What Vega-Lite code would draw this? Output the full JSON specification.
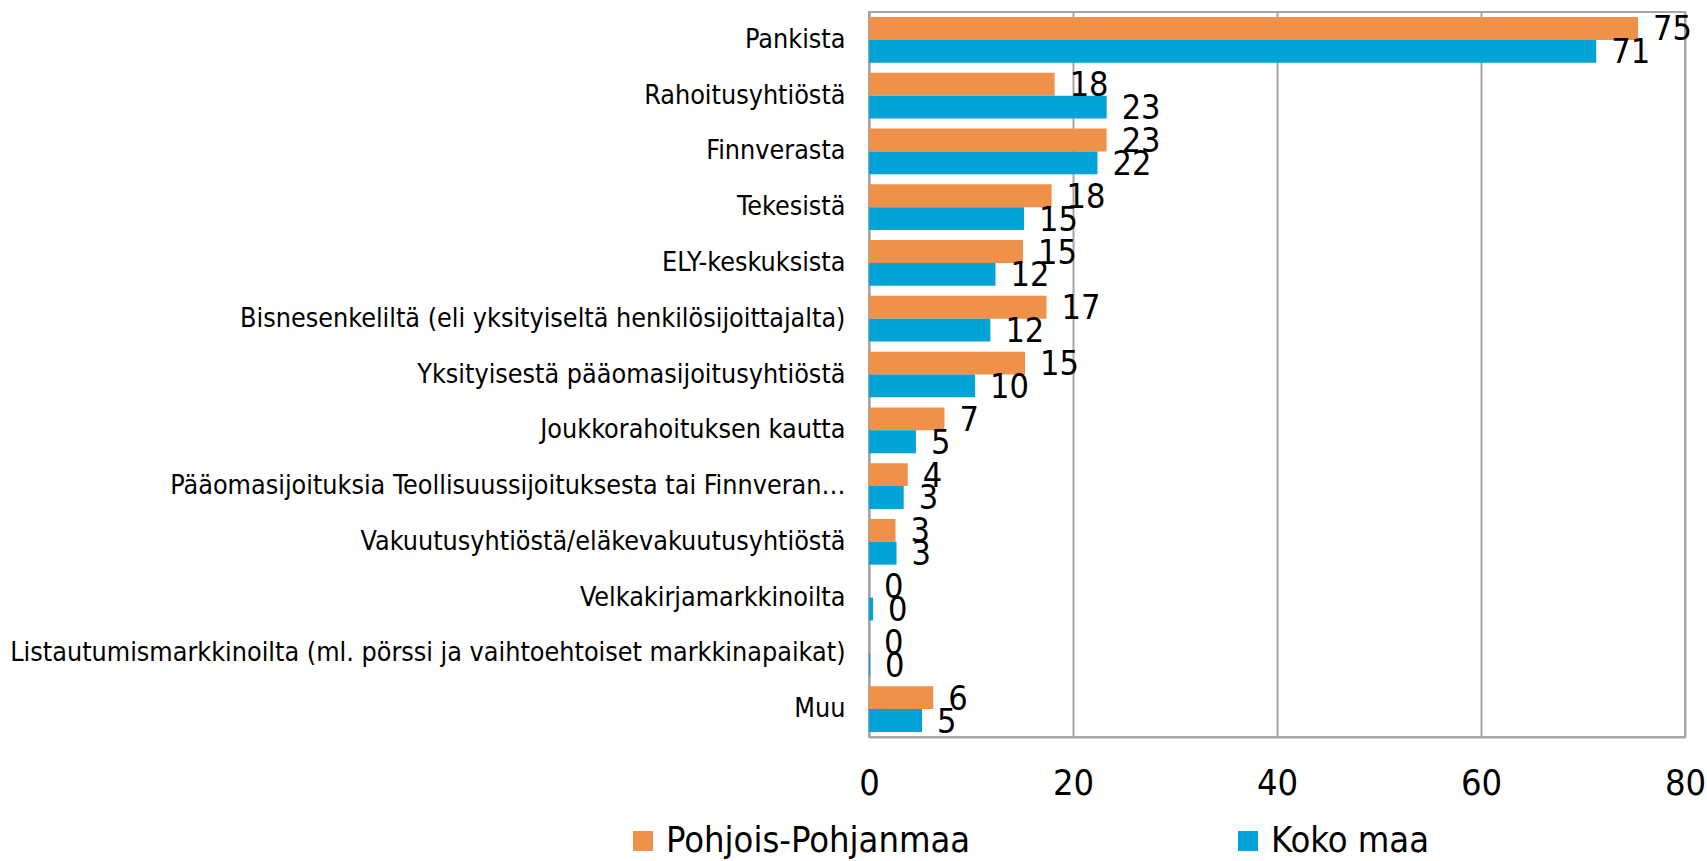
{
  "$schema": "https://vega.github.io/schema/vega-lite/v6.json",
  "width": 816,
  "height": 725,
  "autosize": {"type": "none"},
  "padding": {"left": 869, "top": 12, "right": 22, "bottom": 124},
  "background": "white",
  "config": {
    "font": "DejaVu Sans Condensed",
    "view": {"stroke": "#a6a6a6", "strokeWidth": 2}
  },
  "data": {
    "values": [
      {"cat": "Pankista", "series": "Pohjois-Pohjanmaa", "value": 75.4},
      {"cat": "Pankista", "series": "Koko maa", "value": 71.3},
      {"cat": "Rahoitusyhtiöstä", "series": "Pohjois-Pohjanmaa", "value": 18.2},
      {"cat": "Rahoitusyhtiöstä", "series": "Koko maa", "value": 23.3},
      {"cat": "Finnverasta", "series": "Pohjois-Pohjanmaa", "value": 23.3},
      {"cat": "Finnverasta", "series": "Koko maa", "value": 22.4},
      {"cat": "Tekesistä", "series": "Pohjois-Pohjanmaa", "value": 17.9},
      {"cat": "Tekesistä", "series": "Koko maa", "value": 15.2},
      {"cat": "ELY-keskuksista", "series": "Pohjois-Pohjanmaa", "value": 15.1},
      {"cat": "ELY-keskuksista", "series": "Koko maa", "value": 12.4},
      {"cat": "Bisnesenkeliltä (eli yksityiseltä henkilösijoittajalta)", "series": "Pohjois-Pohjanmaa", "value": 17.4},
      {"cat": "Bisnesenkeliltä (eli yksityiseltä henkilösijoittajalta)", "series": "Koko maa", "value": 11.9},
      {"cat": "Yksityisestä pääomasijoitusyhtiöstä", "series": "Pohjois-Pohjanmaa", "value": 15.3},
      {"cat": "Yksityisestä pääomasijoitusyhtiöstä", "series": "Koko maa", "value": 10.4},
      {"cat": "Joukkorahoituksen kautta", "series": "Pohjois-Pohjanmaa", "value": 7.4},
      {"cat": "Joukkorahoituksen kautta", "series": "Koko maa", "value": 4.6},
      {"cat": "Pääomasijoituksia Teollisuussijoituksesta tai Finnveran…", "series": "Pohjois-Pohjanmaa", "value": 3.8},
      {"cat": "Pääomasijoituksia Teollisuussijoituksesta tai Finnveran…", "series": "Koko maa", "value": 3.4},
      {"cat": "Vakuutusyhtiöstä/eläkevakuutusyhtiöstä", "series": "Pohjois-Pohjanmaa", "value": 2.6},
      {"cat": "Vakuutusyhtiöstä/eläkevakuutusyhtiöstä", "series": "Koko maa", "value": 2.7},
      {"cat": "Velkakirjamarkkinoilta", "series": "Pohjois-Pohjanmaa", "value": 0},
      {"cat": "Velkakirjamarkkinoilta", "series": "Koko maa", "value": 0.4},
      {"cat": "Listautumismarkkinoilta (ml. pörssi ja vaihtoehtoiset markkinapaikat)", "series": "Pohjois-Pohjanmaa", "value": 0},
      {"cat": "Listautumismarkkinoilta (ml. pörssi ja vaihtoehtoiset markkinapaikat)", "series": "Koko maa", "value": 0.1},
      {"cat": "Muu", "series": "Pohjois-Pohjanmaa", "value": 6.3},
      {"cat": "Muu", "series": "Koko maa", "value": 5.2}
    ]
  },
  "encoding": {
    "y": {
      "field": "cat",
      "type": "nominal",
      "sort": null,
      "scale": {"paddingInner": 0.18, "paddingOuter": 0.09},
      "axis": {
        "title": null,
        "ticks": false,
        "domain": true,
        "domainColor": "#a6a6a6",
        "domainWidth": 2,
        "labelFontSize": 26.7,
        "labelColor": "#000000",
        "labelPadding": 24,
        "labelLimit": 900
      }
    },
    "x": {
      "field": "value",
      "type": "quantitative",
      "scale": {"domain": [0, 80], "nice": false},
      "axis": {
        "title": null,
        "values": [0, 20, 40, 60, 80],
        "ticks": false,
        "domain": true,
        "domainColor": "#a6a6a6",
        "domainWidth": 2,
        "grid": true,
        "gridColor": "#a6a6a6",
        "gridWidth": 2,
        "labelFontSize": 36,
        "labelColor": "#000000",
        "labelPadding": 29,
        "labelFlush": false
      }
    },
    "yOffset": {
      "field": "series",
      "type": "nominal",
      "sort": ["Pohjois-Pohjanmaa", "Koko maa"],
      "scale": {"paddingInner": 0, "paddingOuter": 0}
    }
  },
  "layer": [
    {
      "mark": {"type": "bar"},
      "encoding": {
        "color": {
          "field": "series",
          "type": "nominal",
          "sort": ["Pohjois-Pohjanmaa", "Koko maa"],
          "scale": {"domain": ["Pohjois-Pohjanmaa", "Koko maa"], "range": ["#F0914A", "#01A3D9"]},
          "legend": {
            "title": null,
            "orient": "none",
            "legendX": -244,
            "legendY": 811,
            "direction": "horizontal",
            "columns": 2,
            "columnPadding": 259,
            "symbolType": "square",
            "symbolSize": 400,
            "symbolStrokeWidth": 0,
            "labelFontSize": 36,
            "labelColor": "#000000",
            "labelOffset": 5,
            "labelLimit": 600
          }
        }
      }
    },
    {
      "mark": {"type": "text", "align": "left", "baseline": "middle", "dx": 15, "dy": 2, "fontSize": 34, "color": "#000000"},
      "encoding": {
        "text": {"field": "value", "type": "quantitative", "format": ".0f"}
      }
    }
  ]
}
